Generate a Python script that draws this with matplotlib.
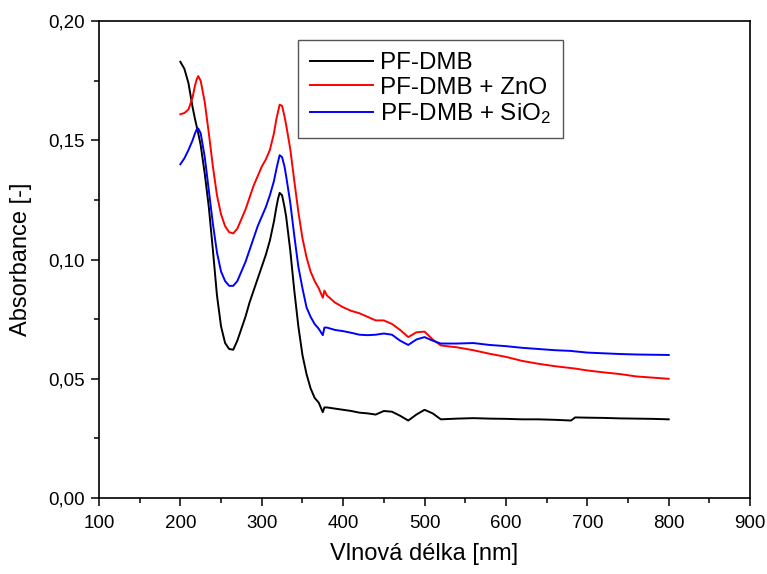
import matplotlib
matplotlib.use('Agg')
import matplotlib.pyplot as plt
from matplotlib.ticker import MultipleLocator, FuncFormatter

plt.rcParams['font.family'] = ['Liberation Sans', 'DejaVu Sans']
plt.rcParams['mathtext.fontset'] = 'custom'
plt.rcParams['mathtext.rm'] = 'Liberation Sans'
plt.rcParams['mathtext.default'] = 'regular'

# vlnova delka [nm]
wl = [200, 205, 210, 215, 218, 220, 222, 225, 230, 235, 240, 245,
      250, 255, 260, 265, 270, 275, 280, 285, 290, 295,
      300, 305, 310, 315, 318, 320, 322, 325, 328, 330, 335, 340, 345,
      350, 355, 360, 365, 370, 375, 377, 380, 390, 400,
      410, 420, 430, 440, 450, 460, 470, 480, 490, 500,
      510, 520, 540, 560, 580, 600, 620, 640, 660, 680,
      685, 700, 720, 740, 760, 780, 800]

pf_dmb = [0.183, 0.180, 0.174, 0.164, 0.159, 0.156, 0.153, 0.148, 0.136, 0.122, 0.104, 0.085,
          0.072, 0.065, 0.0625, 0.0622, 0.066, 0.071, 0.076, 0.082, 0.087, 0.092,
          0.097, 0.102, 0.108, 0.116, 0.122, 0.1255, 0.128, 0.127, 0.122, 0.118, 0.104, 0.087, 0.072,
          0.060, 0.052, 0.046, 0.042, 0.040, 0.036, 0.038, 0.038, 0.0375, 0.037,
          0.0365, 0.0358, 0.0355, 0.035, 0.0365, 0.0362, 0.0345, 0.0325, 0.035, 0.037,
          0.0355, 0.033, 0.0333, 0.0335, 0.0333, 0.0332, 0.033, 0.033, 0.0328, 0.0325,
          0.0338, 0.0337, 0.0336, 0.0334, 0.0333, 0.0332, 0.033]

pf_dmb_zno = [0.161, 0.1615, 0.163, 0.168, 0.173, 0.1755, 0.177, 0.175, 0.166, 0.153, 0.139, 0.127,
              0.119, 0.114, 0.1115, 0.111, 0.113, 0.117, 0.121, 0.126, 0.131, 0.135,
              0.139, 0.142, 0.146, 0.153, 0.159, 0.162, 0.165, 0.1645, 0.160, 0.1565, 0.1465, 0.133, 0.120,
              0.109, 0.101, 0.095, 0.091, 0.088, 0.084, 0.087, 0.085, 0.082, 0.080,
              0.0785, 0.0775, 0.076, 0.0745, 0.0745, 0.073, 0.0705, 0.0675, 0.0695, 0.0698,
              0.0665, 0.064, 0.0632, 0.062, 0.0605, 0.0592, 0.0575, 0.0563, 0.0553, 0.0545,
              0.0543, 0.0535, 0.0527, 0.052, 0.051, 0.0505, 0.050]

pf_dmb_sio2 = [0.140, 0.1425, 0.146, 0.150, 0.153, 0.1545, 0.155, 0.153, 0.143, 0.129, 0.115, 0.103,
               0.095, 0.091, 0.089, 0.089, 0.091, 0.095, 0.099, 0.104, 0.109, 0.114,
               0.118, 0.122, 0.127, 0.133, 0.138, 0.141, 0.1438, 0.143, 0.139, 0.135, 0.124, 0.110, 0.097,
               0.088, 0.080, 0.076, 0.073, 0.071, 0.0683, 0.0715, 0.0715, 0.0705, 0.070,
               0.0693, 0.0685, 0.0683, 0.0685, 0.069, 0.0685, 0.066, 0.0642, 0.0665, 0.0675,
               0.066, 0.0648, 0.0648, 0.065, 0.0642, 0.0637, 0.063, 0.0625, 0.062, 0.0617,
               0.0615, 0.061, 0.0607, 0.0604, 0.0602, 0.0601, 0.060]

fig = plt.figure(figsize=(7.67, 5.74), dpi=100)
ax = fig.add_axes([0.129, 0.1324, 0.849, 0.8306])

ax.plot(wl, pf_dmb, color='black', lw=1.4, label='PF-DMB')
ax.plot(wl, pf_dmb_zno, color='#ff0000', lw=1.4, label='PF-DMB + ZnO')
ax.plot(wl, pf_dmb_sio2, color='#0000ff', lw=1.4, label='PF-DMB + SiO$_2$')

ax.set_xlim(100, 900)
ax.set_ylim(0, 0.20)
ax.xaxis.set_major_locator(MultipleLocator(100))
ax.xaxis.set_minor_locator(MultipleLocator(50))
ax.yaxis.set_major_locator(MultipleLocator(0.05))
ax.yaxis.set_minor_locator(MultipleLocator(0.025))
ax.yaxis.set_major_formatter(FuncFormatter(lambda v, p: f'{v:.2f}'.replace('.', ',')))

ax.tick_params(which='both', direction='out', top=False, right=False,
               width=1.1, labelsize=13.5, color='black')
ax.tick_params(which='major', length=6)
ax.tick_params(which='minor', length=3.6)
ax.tick_params(axis='x', which='major', pad=6)
ax.tick_params(axis='y', which='major', pad=4)
for s in ax.spines.values():
    s.set_linewidth(1.2)

ax.set_xlabel('Vlnová délka [nm]', fontsize=17, labelpad=8)
ax.set_ylabel('Absorbance [-]', fontsize=17, labelpad=12)

leg = ax.legend(loc='upper left', bbox_to_anchor=(0.306, 0.96), borderaxespad=0,
                fontsize=17.4, fancybox=False, framealpha=1, edgecolor='#555555',
                handlelength=2.6, handletextpad=0.3, labelspacing=0.1,
                borderpad=0.5)
leg.get_frame().set_linewidth(1.0)

fig.savefig('out.png', dpi=100)
